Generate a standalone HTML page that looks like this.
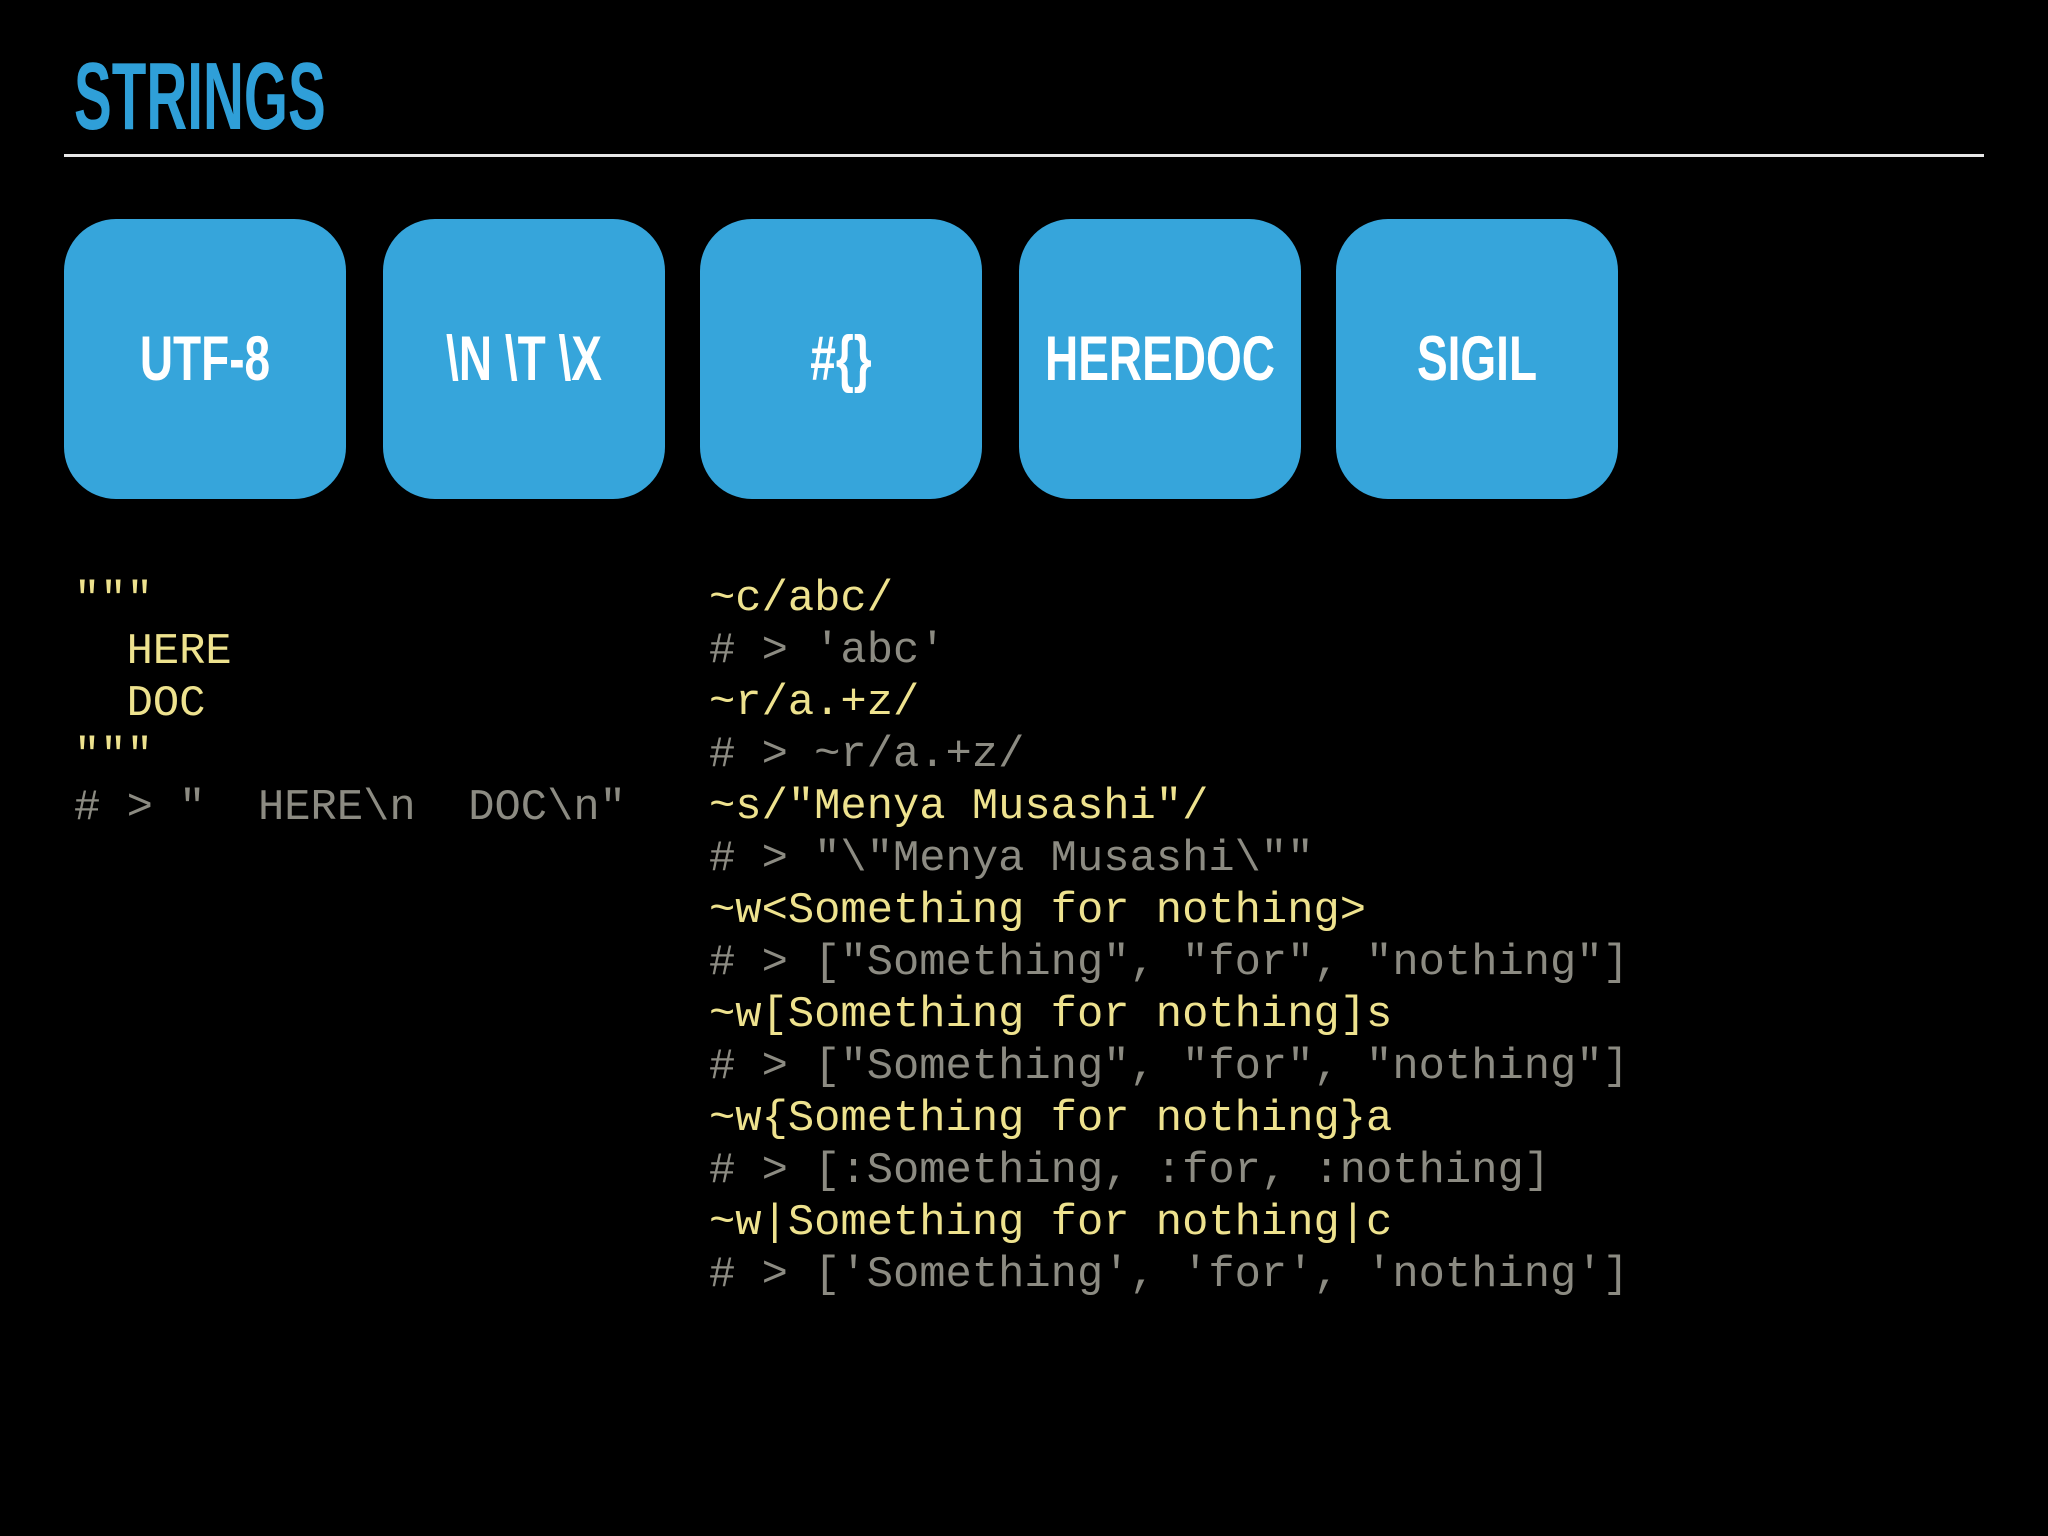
<!DOCTYPE html>
<html><head><meta charset="utf-8"><style>
html,body{margin:0;padding:0;background:#000;}
body{width:2048px;height:1536px;position:relative;overflow:hidden;font-family:"Liberation Sans",sans-serif;}
.title{position:absolute;left:74px;top:42px;font-size:96px;font-weight:bold;color:#2f9fd8;transform:scaleX(0.59);transform-origin:0 0;line-height:110px;}
.rule{position:absolute;left:64px;top:154px;width:1920px;height:3px;background:#e8e8e8;}
.box{position:absolute;top:219px;width:282px;height:280px;border-radius:52px;background:#36a5db;color:#fff;}
.box span{position:absolute;left:0;right:0;top:0;bottom:0;display:flex;align-items:center;justify-content:center;font-size:63px;font-weight:bold;transform:scaleX(0.73);}
.code{position:absolute;font-family:"Liberation Mono",monospace;font-size:43.8px;line-height:52px;white-space:pre;color:#eee28e;}
.c{color:#8c8b82;}
</style></head><body>
<div class="title">STRINGS</div>
<div class="rule"></div>
<div class="box" style="left:64px"><span>UTF-8</span></div>
<div class="box" style="left:383px"><span>\N \T \X</span></div>
<div class="box" style="left:700px"><span>#{}</span></div>
<div class="box" style="left:1019px"><span>HEREDOC</span></div>
<div class="box" style="left:1336px"><span>SIGIL</span></div>
<div class="code" style="left:74px;top:575px">"""
  HERE
  DOC
"""
<span class="c"># &gt; "  HERE\n  DOC\n"</span></div>
<div class="code" style="left:709px;top:574px">~c/abc/
<span class="c"># &gt; 'abc'</span>
~r/a.+z/
<span class="c"># &gt; ~r/a.+z/</span>
~s/"Menya Musashi"/
<span class="c"># &gt; "\"Menya Musashi\""</span>
~w&lt;Something for nothing&gt;
<span class="c"># &gt; ["Something", "for", "nothing"]</span>
~w[Something for nothing]s
<span class="c"># &gt; ["Something", "for", "nothing"]</span>
~w{Something for nothing}a
<span class="c"># &gt; [:Something, :for, :nothing]</span>
~w|Something for nothing|c
<span class="c"># &gt; ['Something', 'for', 'nothing']</span></div>
</body></html>
